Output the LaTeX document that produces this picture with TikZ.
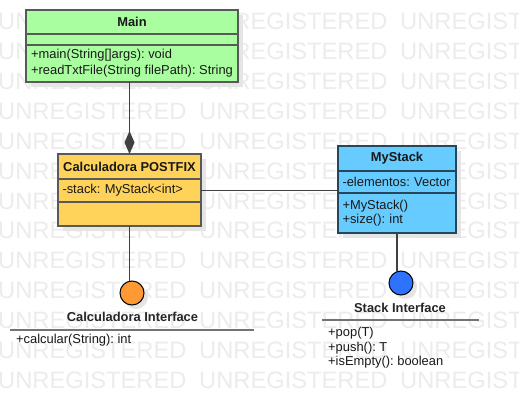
\documentclass[tikz,border=0pt]{standalone}
\usepackage{fontspec}
\setmainfont{Liberation Sans}
\usetikzlibrary{positioning,arrows.meta,shadows}
\hyphenpenalty=10000
\frenchspacing

\definecolor{mainfill}{RGB}{169,255,160}
\definecolor{calcfill}{RGB}{255,210,90}
\definecolor{stackfill}{RGB}{102,204,255}
\definecolor{stackdraw}{RGB}{40,70,90}
\definecolor{iforange}{RGB}{255,153,51}
\definecolor{ifblue}{RGB}{45,115,255}
\definecolor{wmgray}{RGB}{236,236,236}

\tikzset{
  wmark/.style={anchor=west, inner sep=0pt, text=wmgray, font=\fontsize{23.7}{24}\selectfont},
  umlbox/.style={draw=black!65, line width=1.5pt, outer sep=0pt, inner xsep=4.5pt, inner ysep=1pt,
    text=black!90, font=\fontsize{12.9}{15.7}\selectfont,
    drop shadow={shadow xshift=5pt, shadow yshift=-5pt, fill=black!10, opacity=1}},
  umlhead/.style={umlbox, anchor=north, font=\fontsize{12.9}{15.7}\selectfont\bfseries},
  umlpart/.style={umlbox, anchor=north, align=left},
  mainbox/.style={fill=mainfill, minimum width=212pt},
  calcbox/.style={fill=calcfill, minimum width=143pt},
  stackbox/.style={fill=stackfill, draw=stackdraw, minimum width=118pt},
  ifcircle/.style={circle, draw=black, line width=1pt, minimum size=24pt, inner sep=0pt,
    drop shadow={shadow xshift=4pt, shadow yshift=-4pt, fill=black!10, opacity=1}},
  ifname/.style={inner sep=0pt, text=black!85, font=\fontsize{12.9}{15}\selectfont\bfseries},
  ifops/.style={inner sep=0pt, align=left, text=black!90, font=\fontsize{12.9}{14.5}\selectfont},
  ifrule/.style={draw=black!55, line width=2pt},
  link/.style={draw=black!75, line width=1.2pt},
  comp/.style={link, -{Diamond[length=23pt, width=10pt]}}
}

\begin{document}
\begin{tikzpicture}[x=1pt, y=-1pt]
	\useasboundingbox (0,0) rectangle (519,415);
	\fill[white] (0,0) rectangle (519,415);
	% watermark
	\foreach \r in {0,...,12}
		\foreach \c in {0,1,2}
			\node[wmark] (wm-\r-\c) at (-2+201*\c, 21.5+29.9*\r) {UNREGISTERED};

	% classes
	\node[umlhead, mainbox, minimum height=24pt] (main) at (132,10) {Main};
	\node[umlpart, mainbox, minimum height=11pt, below=0pt of main] (main-attr) {};
	\node[umlpart, mainbox, minimum height=37pt, below=0pt of main-attr] (main-ops)
		{+main(String[]args): void\\+readTxtFile(String filePath): String};

	\node[umlhead, calcbox, minimum height=25pt] (calc) at (129.5,154) {Calculadora POSTFIX};
	\node[umlpart, calcbox, minimum height=23pt, text width=134pt, below=0pt of calc] (calc-attr) {-stack: MyStack<int>};
	\node[umlpart, calcbox, minimum height=24pt, below=0pt of calc-attr] (calc-ops) {};

	\node[umlhead, stackbox, minimum height=25pt] (stack) at (397,146) {MyStack};
	\node[umlpart, stackbox, minimum height=22pt, text width=109pt, below=0pt of stack] (stack-attr) {-elementos: Vector};
	\node[umlpart, stackbox, minimum height=40pt, text width=109pt, below=0pt of stack-attr,
		font=\fontsize{12.9}{13.5}\selectfont] (stack-ops) {+MyStack()\\+size(): int};

	% interfaces
	\node[ifcircle, fill=iforange] (calc-if) at (132,293) {};
	\node[ifcircle, fill=ifblue] (stack-if) at (401,283) {};

	\draw[comp] (calc.north |- main-ops.south) -- (calc.north);
	\draw[link] (calc-attr.east) -- (calc-attr.east -| stack-attr.west);
	\draw[link] (calc-ops.south) -- (calc-ops.south |- calc-if.north);
	\draw[link] (stack-ops.south) -- (stack-ops.south |- stack-if.north);

	\node[ifname] (calc-if-name) at (132.5,317) {Calculadora Interface};
	\coordinate (calc-if-w) at (10,330);
	\coordinate (calc-if-e) at (254,330);
	\draw[ifrule] (calc-if-w) -- (calc-if-e);
	\node[ifops, anchor=base west] (calc-if-ops) at (16,343.5) {+calcular(String): int};

	\node[ifname] (stack-if-name) at (400,308) {Stack Interface};
	\coordinate (stack-if-w) at (322,320);
	\coordinate (stack-if-e) at (479,320);
	\draw[ifrule] (stack-if-w) -- (stack-if-e);
	\node[ifops, anchor=base west] (stack-if-ops) at (328,365.5) {+pop(T)\\+push(): T\\+isEmpty(): boolean};
\end{tikzpicture}
\end{document}
